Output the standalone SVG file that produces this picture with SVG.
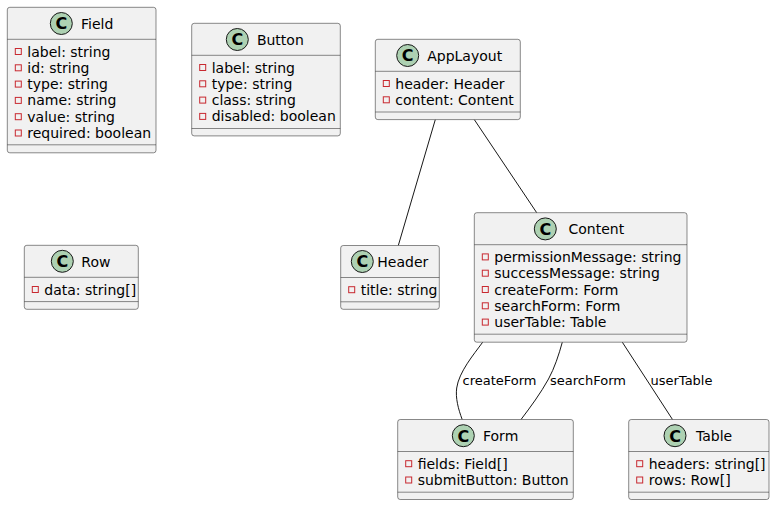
<svg xmlns="http://www.w3.org/2000/svg" width="775" height="505" viewBox="0 0 775 505">
  <style>
    .box { fill: #F1F1F1; stroke: #181818; stroke-width: 0.5; }
    .sep { stroke: #181818; stroke-width: 0.5; }
    .badge { fill: #ADD1B2; stroke: #181818; stroke-width: 1; }
    .badge-letter { font-family: "DejaVu Sans", sans-serif; font-size: 16px; font-weight: bold; fill: #000000; text-anchor: middle; }
    .title { font-family: "DejaVu Sans", sans-serif; font-size: 14px; fill: #000000; }
    .attr { font-family: "DejaVu Sans", sans-serif; font-size: 14px; fill: #000000; }
    .priv { fill: none; stroke: #C82930; stroke-width: 1; }
    .edge { fill: none; stroke: #181818; stroke-width: 1; }
    .elabel { font-family: "DejaVu Sans", sans-serif; font-size: 13px; fill: #000000; }
  </style>

  <!-- associations -->
  <g id="connectors">
    <path class="edge" d="M435.3,119.6 L398.3,245.5"/>
    <path class="edge" d="M474.3,119.6 L536.7,212.7"/>
    <path class="edge" d="M482.7,342.2 C473.5,354.7 458.9,372.1 456.7,388 C455.3,398 458.4,409.4 462.2,419.5"/>
    <text class="elabel" x="462.5" y="385">createForm</text>
    <path class="edge" d="M562.3,342.2 C558.8,355 554.5,368 548.5,379 C540.5,393.5 530.5,407 521,419.5"/>
    <text class="elabel" x="550" y="385">searchForm</text>
    <path class="edge" d="M622.3,342.2 L672.5,419.5"/>
    <text class="elabel" x="650.5" y="385">userTable</text>
  </g>

  <!-- Field -->
  <g id="Field">
    <rect class="box" x="7.3" y="7.3" width="148.7" height="145.5" rx="2.5"/>
    <circle class="badge" cx="61.3" cy="23.5" r="11"/>
    <text class="badge-letter" x="61.3" y="29.3">C</text>
    <text class="title" x="81" y="28.6">Field</text>
    <line class="sep" x1="7.3" y1="39.3" x2="156" y2="39.3"/>
    <rect class="priv" x="15.3" y="48.5" width="6" height="6"/>
    <text class="attr" x="27.3" y="56.5">label: string</text>
    <rect class="priv" x="15.3" y="64.8" width="6" height="6"/>
    <text class="attr" x="27.3" y="72.8">id: string</text>
    <rect class="priv" x="15.3" y="81.1" width="6" height="6"/>
    <text class="attr" x="27.3" y="89.1">type: string</text>
    <rect class="priv" x="15.3" y="97.4" width="6" height="6"/>
    <text class="attr" x="27.3" y="105.4">name: string</text>
    <rect class="priv" x="15.3" y="113.7" width="6" height="6"/>
    <text class="attr" x="27.3" y="121.7">value: string</text>
    <rect class="priv" x="15.3" y="130" width="6" height="6"/>
    <text class="attr" x="27.3" y="138">required: boolean</text>
    <line class="sep" x1="7.3" y1="144.8" x2="156" y2="144.8"/>
  </g>

  <!-- Button -->
  <g id="Button">
    <rect class="box" x="191.7" y="23.3" width="148.6" height="112.6" rx="2.5"/>
    <circle class="badge" cx="237.3" cy="39.5" r="11"/>
    <text class="badge-letter" x="237.3" y="45.3">C</text>
    <text class="title" x="256.9" y="44.6">Button</text>
    <line class="sep" x1="191.7" y1="55.3" x2="340.3" y2="55.3"/>
    <rect class="priv" x="199.7" y="64.5" width="6" height="6"/>
    <text class="attr" x="211.7" y="72.5">label: string</text>
    <rect class="priv" x="199.7" y="80.8" width="6" height="6"/>
    <text class="attr" x="211.7" y="88.8">type: string</text>
    <rect class="priv" x="199.7" y="97.1" width="6" height="6"/>
    <text class="attr" x="211.7" y="105.1">class: string</text>
    <rect class="priv" x="199.7" y="113.4" width="6" height="6"/>
    <text class="attr" x="211.7" y="121.4">disabled: boolean</text>
    <line class="sep" x1="191.7" y1="128.5" x2="340.3" y2="128.5"/>
  </g>

  <!-- AppLayout -->
  <g id="AppLayout">
    <rect class="box" x="375.3" y="39.3" width="145" height="80.3" rx="2.5"/>
    <circle class="badge" cx="407.7" cy="55.5" r="11"/>
    <text class="badge-letter" x="407.7" y="61.3">C</text>
    <text class="title" x="427.2" y="60.6">AppLayout</text>
    <line class="sep" x1="375.3" y1="71.3" x2="520.3" y2="71.3"/>
    <rect class="priv" x="383.3" y="80.5" width="6" height="6"/>
    <text class="attr" x="395.3" y="88.5">header: Header</text>
    <rect class="priv" x="383.3" y="96.8" width="6" height="6"/>
    <text class="attr" x="395.3" y="104.8">content: Content</text>
    <line class="sep" x1="375.3" y1="112" x2="520.3" y2="112"/>
  </g>

  <!-- Row -->
  <g id="Row">
    <rect class="box" x="24.3" y="245.3" width="114" height="64" rx="2.5"/>
    <circle class="badge" cx="62.3" cy="261.3" r="11"/>
    <text class="badge-letter" x="62.3" y="267.1">C</text>
    <text class="title" x="81.3" y="266.6">Row</text>
    <line class="sep" x1="24.3" y1="277.3" x2="138.3" y2="277.3"/>
    <rect class="priv" x="32.3" y="286.5" width="6" height="6"/>
    <text class="attr" x="44.3" y="294.5">data: string[]</text>
    <line class="sep" x1="24.3" y1="301.6" x2="138.3" y2="301.6"/>
  </g>

  <!-- Header -->
  <g id="Header">
    <rect class="box" x="340.7" y="245.5" width="98.6" height="63.8" rx="2.5"/>
    <circle class="badge" cx="362.3" cy="261.5" r="11"/>
    <text class="badge-letter" x="362.3" y="267.3">C</text>
    <text class="title" x="377.3" y="266.8">Header</text>
    <line class="sep" x1="340.7" y1="277.5" x2="439.3" y2="277.5"/>
    <rect class="priv" x="348.7" y="286.7" width="6" height="6"/>
    <text class="attr" x="360.7" y="294.7">title: string</text>
    <line class="sep" x1="340.7" y1="301.8" x2="439.3" y2="301.8"/>
  </g>

  <!-- Content -->
  <g id="Content">
    <rect class="box" x="474.3" y="212.7" width="212.7" height="129.5" rx="2.5"/>
    <circle class="badge" cx="545.3" cy="228.9" r="11"/>
    <text class="badge-letter" x="545.3" y="234.7">C</text>
    <text class="title" x="568.5" y="234">Content</text>
    <line class="sep" x1="474.3" y1="244.7" x2="687" y2="244.7"/>
    <rect class="priv" x="482.3" y="253.9" width="6" height="6"/>
    <text class="attr" x="494.3" y="261.9">permissionMessage: string</text>
    <rect class="priv" x="482.3" y="270.2" width="6" height="6"/>
    <text class="attr" x="494.3" y="278.2">successMessage: string</text>
    <rect class="priv" x="482.3" y="286.5" width="6" height="6"/>
    <text class="attr" x="494.3" y="294.5">createForm: Form</text>
    <rect class="priv" x="482.3" y="302.8" width="6" height="6"/>
    <text class="attr" x="494.3" y="310.8">searchForm: Form</text>
    <rect class="priv" x="482.3" y="319.1" width="6" height="6"/>
    <text class="attr" x="494.3" y="327.1">userTable: Table</text>
    <line class="sep" x1="474.3" y1="334.2" x2="687" y2="334.2"/>
  </g>

  <!-- Form -->
  <g id="Form">
    <rect class="box" x="397.7" y="419.5" width="175.6" height="80" rx="2.5"/>
    <circle class="badge" cx="463.3" cy="435.7" r="11"/>
    <text class="badge-letter" x="463.3" y="441.5">C</text>
    <text class="title" x="483" y="440.8">Form</text>
    <line class="sep" x1="397.7" y1="451.5" x2="573.3" y2="451.5"/>
    <rect class="priv" x="405.7" y="460.7" width="6" height="6"/>
    <text class="attr" x="417.7" y="468.7">fields: Field[]</text>
    <rect class="priv" x="405.7" y="477" width="6" height="6"/>
    <text class="attr" x="417.7" y="485">submitButton: Button</text>
    <line class="sep" x1="397.7" y1="492.2" x2="573.3" y2="492.2"/>
  </g>

  <!-- Table -->
  <g id="Table">
    <rect class="box" x="628.7" y="419.5" width="140.3" height="80" rx="2.5"/>
    <circle class="badge" cx="675" cy="435.7" r="11"/>
    <text class="badge-letter" x="675" y="441.5">C</text>
    <text class="title" x="696" y="440.8">Table</text>
    <line class="sep" x1="628.7" y1="451.5" x2="769" y2="451.5"/>
    <rect class="priv" x="636.7" y="460.7" width="6" height="6"/>
    <text class="attr" x="648.7" y="468.7">headers: string[]</text>
    <rect class="priv" x="636.7" y="477" width="6" height="6"/>
    <text class="attr" x="648.7" y="485">rows: Row[]</text>
    <line class="sep" x1="628.7" y1="492.2" x2="769" y2="492.2"/>
  </g>
</svg>
